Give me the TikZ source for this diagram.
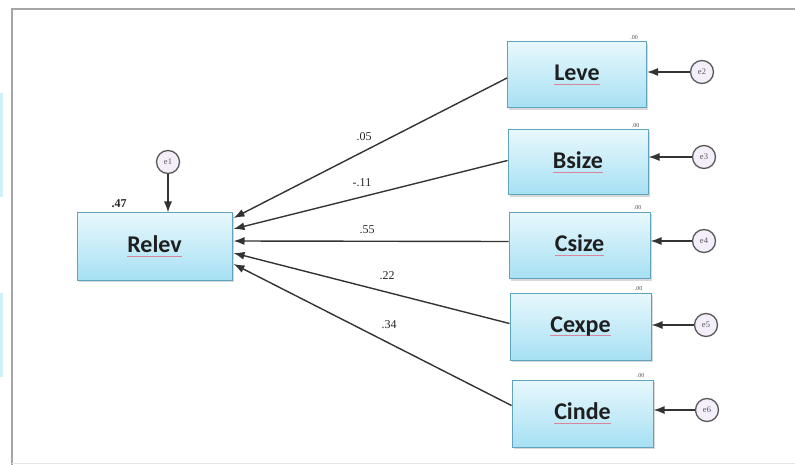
\documentclass[tikz,border=0pt]{standalone}
\usepackage{fontspec}
\setmainfont{Liberation Serif}
\newfontfamily\boxfont{Carlito}
\usetikzlibrary{arrows.meta,shadows}
\definecolor{boxtop}{HTML}{E8F8FD}
\definecolor{boxbot}{HTML}{A6E0F3}
\definecolor{boxedge}{HTML}{5FA3BF}
\definecolor{errfill}{HTML}{F3EEF9}
\definecolor{squig}{HTML}{D9849A}
\newcommand\spellmark[1]{{\setbox0\hbox{#1}\rlap{\color{squig}\rule[-4pt]{\wd0}{0.9pt}}\box0}}
\begin{document}
\begin{tikzpicture}[x=1pt,y=-1pt,
  var/.style={draw=boxedge, line width=1pt, top color=boxtop, bottom color=boxbot,
    minimum width=140pt, minimum height=66pt, inner sep=0pt, text=black!88,
    font=\boxfont\bfseries\fontsize{24}{24}\selectfont,
    drop shadow={shadow xshift=1.5pt, shadow yshift=-2pt, opacity=0.3}},
  err/.style={circle, draw=black!65, line width=1.3pt, fill=errfill,
    minimum size=23pt, inner sep=0pt, text=black!65, font=\fontsize{8.5}{8.5}\selectfont},
  pth/.style={draw=black!80, line width=1.4pt, -{Latex[length=11pt,width=8pt]}},
  coef/.style={inner sep=0pt, text=black!85, font=\fontsize{12}{12}\selectfont},
  zero/.style={inner sep=0pt, text=black!70, font=\fontsize{6}{6}\selectfont, anchor=south}
]
\useasboundingbox (0,0) rectangle (795,465);
\fill[white] (0,0) rectangle (795,465);
\fill[cyan!18] (0,93) rectangle (3,197);
\fill[cyan!18] (0,293) rectangle (3,377);
\draw[black!35, line width=1.6pt] (12,465) -- (12,9) -- (795,9);
\draw[black!10, line width=0.8pt] (12,463.5) -- (795,463.5);

% boxes
\node[var, minimum width=155pt, minimum height=67pt] (Relev) at (154.5,246.5) {\spellmark{Relev}};
\node[var, minimum width=139pt] (Leve)  at (577,75)    {\spellmark{Leve}};
\node[var, minimum height=65pt] (Bsize) at (578,162.5) {\spellmark{Bsize}};
\node[var, minimum width=141pt] (Csize) at (579.5,245.5) {\spellmark{Csize}};
\node[var, minimum width=141pt, minimum height=67pt] (Cexpe) at (580.5,326.5) {\spellmark{Cexpe}};
\node[var, minimum width=141pt, minimum height=67pt] (Cinde) at (582.5,413.5) {\spellmark{Cinde}};

% error terms
\node[err] (e1) at (168,162) {e1};
\node[err] (e2) at (702,72) {e2};
\node[err] (e3) at (704,157) {e3};
\node[err] (e4) at (704,241) {e4};
\node[err] (e5) at (706,325) {e5};
\node[err] (e6) at (707,410) {e6};

\draw[pth] (e1) -- (e1 |- Relev.north);
\draw[pth] (e2) -- (e2 -| Leve.east);
\draw[pth] (e3) -- (e3 -| Bsize.east);
\draw[pth] (e4) -- (e4 -| Csize.east);
\draw[pth] (e5) -- (e5 -| Cexpe.east);
\draw[pth] (e6) -- (e6 -| Cinde.east);

% paths
\draw[pth] ([yshift=-3pt]Leve.west)  -- ([xshift=1pt,yshift=28.5pt]Relev.east);
\draw[pth] ([yshift=2pt]Bsize.west)  -- ([xshift=1pt,yshift=17.5pt]Relev.east);
\draw[pth] ([yshift=4pt]Csize.west)  -- ([xshift=1pt,yshift=5.5pt]Relev.east);
\draw[pth] ([yshift=3pt]Cexpe.west)  -- ([xshift=1pt,yshift=-6.5pt]Relev.east);
\draw[pth] ([yshift=8pt]Cinde.west)  -- ([xshift=1pt,yshift=-17.5pt]Relev.east);

% coefficients
\node[coef] (c1) at (364,137) {.05};
\node[coef] (c2) at (362,183) {-.11};
\node[coef] (c3) at (367,230) {.55};
\node[coef] (c4) at (387,276) {.22};
\node[coef] (c5) at (389,325) {.34};
\node[coef, font=\bfseries\fontsize{12}{12}\selectfont] (r2) at (119,204) {.47};

% variances
\node[zero] at ([xshift=-13pt,yshift=2pt]Leve.north east) {.00};
\node[zero] at ([xshift=-13pt,yshift=2pt]Bsize.north east) {.00};
\node[zero] at ([xshift=-13pt,yshift=2pt]Csize.north east) {.00};
\node[zero] at ([xshift=-13pt,yshift=2pt]Cexpe.north east) {.00};
\node[zero] at ([xshift=-13pt,yshift=2pt]Cinde.north east) {.00};
\end{tikzpicture}
\end{document}
